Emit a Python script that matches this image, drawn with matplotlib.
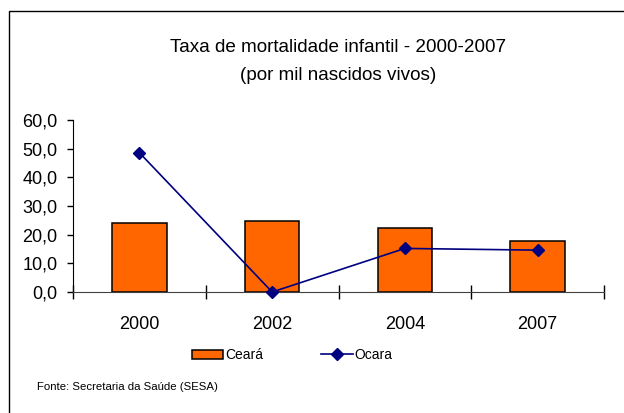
import numpy as np
import matplotlib.pyplot as plt
from matplotlib.patches import Rectangle

plt.rcParams['font.family'] = ['Liberation Sans', 'DejaVu Sans']

# Dados
anos = ['2000', '2002', '2004', '2007']
ceara = [24.2, 24.9, 22.4, 17.7]
ocara = [48.6, 0.0, 15.2, 14.6]
yticks = [0, 10, 20, 30, 40, 50, 60]

W, H = 624, 413
fig = plt.figure(figsize=(W / 100, H / 100), dpi=100)

# moldura (so topo e esquerda visiveis)
fig.patches.append(Rectangle((9 / W, -0.1), 1.2, (413 - 11) / H + 0.1,
                             transform=fig.transFigure, fill=False,
                             edgecolor='black', linewidth=1.0))

ax = fig.add_axes([73 / W, (H - 292) / H, (604 - 73) / W, (292 - 120) / H])
x = np.arange(len(anos))
barras = ax.bar(x, ceara, width=0.41, color='#FF6600', edgecolor='black',
                linewidth=1.1, label='Ceará', zorder=2)
linha, = ax.plot(x, ocara, color='#000080', marker='D', markersize=6,
                 linewidth=1.2, label='Ocara', zorder=3, clip_on=False)

ax.set_xlim(-0.5, len(anos) - 0.5)
ax.set_ylim(0, 60)
ax.set_yticks(yticks)
ax.set_yticklabels([f'{v:.1f}'.replace('.', ',') for v in yticks], fontsize=13)
ax.set_xticks(np.arange(-0.5, len(anos), 1.0))
ax.set_xticklabels([])
ax.set_xticks(x, minor=True)
ax.set_xticklabels(anos, minor=True, fontsize=13)
ax.tick_params(axis='x', which='minor', length=0, pad=17)
ax.tick_params(axis='x', which='major', direction='inout', length=10, width=1)
ax.tick_params(axis='y', direction='out', length=4, width=1, pad=7)
for s in ['top', 'right']:
    ax.spines[s].set_visible(False)
ax.spines['left'].set_color('black')
ax.spines['bottom'].set_color('#404040')

fig.text(338 / W, 1 - 47 / H, 'Taxa de mortalidade infantil - 2000-2007',
         ha='center', va='center', fontsize=13.6)
fig.text(338 / W, 1 - 75 / H, '(por mil nascidos vivos)',
         ha='center', va='center', fontsize=13.6)

fig.legend([barras, linha], ['Ceará', 'Ocara'], loc='center',
           bbox_to_anchor=(292 / W, 1 - 355 / H), ncol=2,
           frameon=False, fontsize=10, handlelength=2.3, handleheight=0.6,
           handletextpad=0.1, columnspacing=4.2)

fig.text(37 / W, 1 - 387 / H, 'Fonte: Secretaria da Saúde (SESA)',
         ha='left', va='center', fontsize=8.2)

fig.savefig('out.png', dpi=100)
